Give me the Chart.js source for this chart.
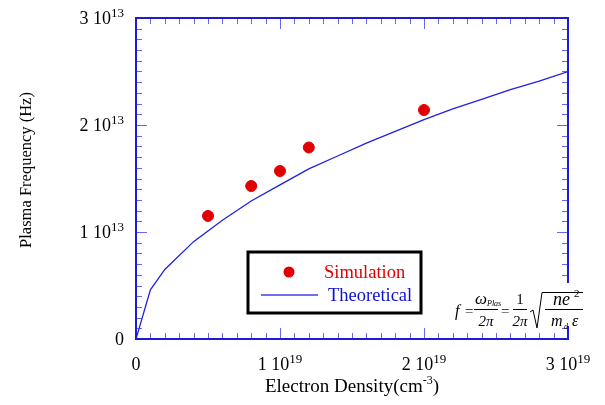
<!DOCTYPE html>
<html>
<head>
<meta charset="utf-8">
<script src="https://cdn.jsdelivr.net/npm/chart.js@4.4.1/dist/chart.umd.min.js"></script>
<style>
  body { margin: 0; background: #fff; }
  #grafico { display: block; }
</style>
</head>
<body>
<canvas id="grafico" width="605" height="405"></canvas>
<script>
// dados
const densidadeTeorica = [0, 1e18, 2e18, 4e18, 6e18, 8e18, 1e19, 1.2e19, 1.4e19, 1.6e19, 1.8e19, 2e19, 2.2e19, 2.4e19, 2.6e19, 2.8e19, 3e19];
const frequenciaTeorica = [0, 0.46e13, 0.65e13, 0.91e13, 1.11e13, 1.29e13, 1.44e13, 1.59e13, 1.71e13, 1.83e13, 1.94e13, 2.05e13, 2.15e13, 2.24e13, 2.33e13, 2.41e13, 2.50e13];
const densidadeSimulacao = [5e18, 8e18, 1e19, 1.2e19, 2e19];
const frequenciaSimulacao = [1.15e13, 1.43e13, 1.57e13, 1.79e13, 2.14e13];

// rotulos dos eixos (base + expoente)
const ticksX = [0, 1e19, 2e19, 3e19];
const rotulosX = ['0', '1 10', '2 10', '3 10'];
const expoentesX = ['', '19', '19', '19'];
const ticksY = [0, 1e13, 2e13, 3e13];
const rotulosY = ['0', '1 10', '2 10', '3 10'];
const expoentesY = ['', '13', '13', '13'];

const FONTE = '"Liberation Serif", "Times New Roman", serif';
const AZUL = '#1c1cd8';
const VERMELHO = '#e00000';

function texto(ctx, s, x, y, tam, cor, alinh, estilo) {
  ctx.font = (estilo || '') + ' ' + tam + 'px ' + FONTE;
  ctx.fillStyle = cor || '#000';
  ctx.textAlign = alinh || 'left';
  ctx.textBaseline = 'alphabetic';
  ctx.fillText(s, x, y);
}

// base com expoente em cima, alinhado pelo centro ou pela direita
function rotuloPotencia(ctx, base, expo, x, y, alinh) {
  ctx.font = '18px ' + FONTE;
  const wb = ctx.measureText(base).width;
  ctx.font = '13px ' + FONTE;
  const we = expo ? ctx.measureText(expo).width : 0;
  const total = wb + we;
  let x0 = alinh === 'right' ? x - total : x - total / 2;
  texto(ctx, base, x0, y, 18);
  if (expo) texto(ctx, expo, x0 + wb, y - 7, 13);
}

const moldura = {
  id: 'moldura',
  afterDraw(chart) {
    const ctx = chart.ctx;
    const { left, right, top, bottom } = chart.chartArea;
    const xs = chart.scales.x, ys = chart.scales.y;
    ctx.save();

    // marcas pequenas e grandes, para dentro
    ctx.strokeStyle = 'rgba(40,40,230,0.7)';
    ctx.lineWidth = 1;
    ctx.beginPath();
    for (let i = 0; i <= 30; i++) {
      const px = Math.round(xs.getPixelForValue(i * 1e18)) + 0.5;
      const len = i % 10 === 0 ? 11 : 6;
      ctx.moveTo(px, bottom); ctx.lineTo(px, bottom - len);
      ctx.moveTo(px, top); ctx.lineTo(px, top + len);
    }
    for (let j = 0; j <= 30; j++) {
      const py = Math.round(ys.getPixelForValue(j * 1e12)) + 0.5;
      const len = j % 10 === 0 ? 11 : 6;
      ctx.moveTo(left, py); ctx.lineTo(left + len, py);
      ctx.moveTo(right, py); ctx.lineTo(right - len, py);
    }
    ctx.stroke();

    ctx.strokeStyle = AZUL;
    ctx.lineWidth = 2;
    ctx.strokeRect(left, top, right - left, bottom - top);

    // rotulos dos ticks
    ticksX.forEach((v, i) => rotuloPotencia(ctx, rotulosX[i], expoentesX[i], xs.getPixelForValue(v), bottom + 31, 'center'));
    ticksY.forEach((v, i) => rotuloPotencia(ctx, rotulosY[i], expoentesY[i], left - 12, ys.getPixelForValue(v) + 6, 'right'));

    // titulo do eixo x
    ctx.font = '19px ' + FONTE;
    const t1 = 'Electron Density(cm';
    const w1 = ctx.measureText(t1).width;
    ctx.font = '12px ' + FONTE;
    const w2 = ctx.measureText('-3').width;
    ctx.font = '19px ' + FONTE;
    const w3 = ctx.measureText(')').width;
    let x0 = (left + right) / 2 - (w1 + w2 + w3) / 2;
    texto(ctx, t1, x0, bottom + 53, 19);
    texto(ctx, '-3', x0 + w1, bottom + 45, 12);
    texto(ctx, ')', x0 + w1 + w2, bottom + 53, 19);

    // titulo do eixo y
    ctx.save();
    ctx.translate(31, 170);
    ctx.rotate(-Math.PI / 2);
    texto(ctx, 'Plasma Frequency (Hz)', 0, 0, 16.5, '#000', 'center');
    ctx.restore();

    desenharLegenda(ctx, chart);
    desenharFormula(ctx);
    ctx.restore();
  }
};

function desenharLegenda(ctx, chart) {
  const ds = chart.data.datasets;
  ctx.fillStyle = '#fff';
  ctx.fillRect(248, 252, 173, 61);
  ctx.strokeStyle = '#000';
  ctx.lineWidth = 3;
  ctx.strokeRect(248, 252, 173, 61);

  ctx.fillStyle = VERMELHO;
  ctx.beginPath();
  ctx.arc(289, 272, 5.5, 0, Math.PI * 2);
  ctx.fill();
  texto(ctx, ds[0].label, 324, 278, 18.5, VERMELHO);

  ctx.strokeStyle = '#7070ee';
  ctx.lineWidth = 2;
  ctx.beginPath();
  ctx.moveTo(261, 295); ctx.lineTo(318, 295);
  ctx.stroke();
  texto(ctx, ds[1].label, 328, 301, 18.5, '#1010d0');
}

// f = w/2pi = 1/2pi sqrt(ne2/m e), cortada na borda direita
function desenharFormula(ctx) {
  ctx.save();
  ctx.beginPath();
  ctx.rect(440, 280, 143, 50);
  ctx.clip();
  ctx.fillStyle = '#fff';
  ctx.fillRect(450, 283, 140, 43);

  texto(ctx, 'f', 455, 316, 16, '#000', 'left', 'italic');
  texto(ctx, '=', 465, 316, 15);
  texto(ctx, 'ω', 475, 304, 17, '#000', 'left', 'italic');
  texto(ctx, 'Plas', 487, 306, 8, '#000', 'left', 'italic');
  texto(ctx, '2π', 486, 326, 15, '#000', 'center', 'italic');
  texto(ctx, '=', 501, 316, 15);
  texto(ctx, '1', 520, 304, 15, '#000', 'center');
  texto(ctx, '2π', 520, 326, 15, '#000', 'center', 'italic');
  texto(ctx, 'ne', 553, 305, 18, '#000', 'left', 'italic');
  texto(ctx, '2', 574, 297, 11);
  texto(ctx, 'm', 551, 326, 16, '#000', 'left', 'italic');
  texto(ctx, 'd', 564, 329, 8, '#000', 'left', 'italic');
  texto(ctx, 'ε', 572, 326, 16, '#000', 'left', 'italic');

  ctx.strokeStyle = '#000';
  ctx.lineWidth = 1;
  ctx.beginPath();
  ctx.moveTo(474, 309.5); ctx.lineTo(498, 309.5);
  ctx.moveTo(513, 309.5); ctx.lineTo(527, 309.5);
  ctx.moveTo(545, 309.5); ctx.lineTo(590, 309.5);
  ctx.moveTo(530, 312); ctx.lineTo(533, 310); ctx.lineTo(537, 328);
  ctx.lineTo(542, 292.5); ctx.lineTo(590, 292.5);
  ctx.stroke();
  ctx.restore();
}

const pontosTeoricos = densidadeTeorica.map((x, i) => ({ x: x, y: frequenciaTeorica[i] }));
const pontosSimulacao = densidadeSimulacao.map((x, i) => ({ x: x, y: frequenciaSimulacao[i] }));

new Chart(document.getElementById('grafico'), {
  type: 'scatter',
  data: {
    datasets: [
      {
        label: 'Simulation',
        data: pontosSimulacao,
        backgroundColor: VERMELHO,
        borderColor: VERMELHO,
        pointRadius: 5.5,
        showLine: false
      },
      {
        label: 'Theoretical',
        data: pontosTeoricos,
        borderColor: '#2020e0',
        borderWidth: 1.3,
        pointRadius: 0,
        showLine: true,
        tension: 0
      }
    ]
  },
  options: {
    responsive: false,
    animation: false,
    devicePixelRatio: 1,
    layout: { padding: { left: 136, right: 37, top: 18, bottom: 66 } },
    plugins: { legend: { display: false }, tooltip: { enabled: false } },
    scales: {
      x: { type: 'linear', min: 0, max: 3e19, display: false },
      y: { type: 'linear', min: 0, max: 3e13, display: false }
    }
  },
  plugins: [moldura]
});
</script>
</body>
</html>
